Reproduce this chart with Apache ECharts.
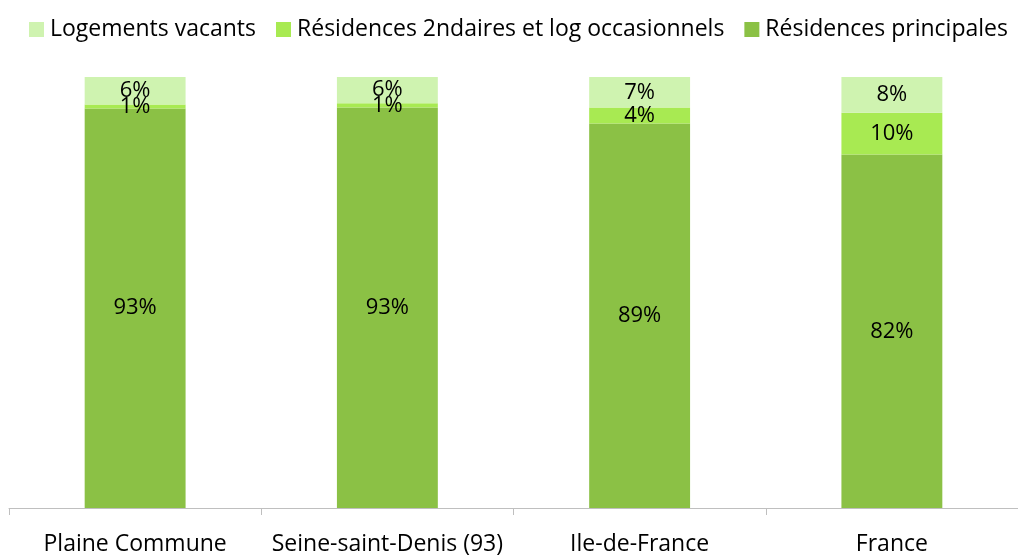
<!DOCTYPE html>
<html>
<head>
<meta charset="utf-8">
<script src="https://cdn.jsdelivr.net/npm/echarts@6/dist/echarts.min.js"></script>
<style>
  html, body { margin: 0; padding: 0; background: #fff; }
  #chart { width: 1018px; height: 557px; }
</style>
</head>
<body>
<div id="chart"></div>
<script>
// catégories (axe x)
var categories = ['Plaine Commune', 'Seine-saint-Denis (93)', 'Ile-de-France', 'France'];
// parts en %
var principales = [92.7, 92.9, 89.2, 82.0];
var secondaires = [0.9, 1.0, 3.7, 9.7];
var vacants = [6.4, 6.1, 7.1, 8.3];
var seriesNames = ['Logements vacants', 'Résidences 2ndaires et log occasionnels', 'Résidences principales'];

var font = 'Open Sans';
var chart = echarts.init(document.getElementById('chart'), null, { renderer: 'canvas' });

function pctLabel(p) {
    return Math.round(p.value) + '%';
}

var labelStyle = {
    show: true,
    position: 'inside',
    formatter: pctLabel,
    color: '#000',
    fontFamily: font,
    fontSize: 22
};

var option = {
    animation: false,
    legend: {
        data: seriesNames,
        padding: 0,
        top: 18,
        left: 29,
        itemWidth: 15,
        itemHeight: 15,
        itemGap: 20,
        icon: 'rect',
        textStyle: { fontFamily: font, fontSize: 23, color: '#000', padding: [0, 0, 0, 1] }
    },
    grid: { left: 9, right: -4, top: 77, bottom: 49 },
    xAxis: {
        type: 'category',
        data: categories,
        axisLine: { lineStyle: { color: '#bfbfbf', width: 1 } },
        axisTick: { show: true, interval: 0, length: 7, lineStyle: { color: '#bfbfbf' } },
        axisLabel: { interval: 0, fontFamily: font, fontSize: 23, color: '#000', margin: 25 }
    },
    yAxis: {
        type: 'value',
        min: 0,
        max: 100,
        show: false
    },
    series: [
        {
            name: 'Résidences principales',
            type: 'bar',
            stack: 'total',
            barWidth: '40%',
            data: principales,
            itemStyle: { color: '#8bc145' },
            label: labelStyle
        },
        {
            name: 'Résidences 2ndaires et log occasionnels',
            type: 'bar',
            stack: 'total',
            data: secondaires,
            itemStyle: { color: '#a8ea52' },
            label: labelStyle
        },
        {
            name: 'Logements vacants',
            type: 'bar',
            stack: 'total',
            data: vacants,
            itemStyle: { color: '#cff3b0' },
            label: labelStyle
        }
    ]
};

chart.setOption(option);
</script>
</body>
</html>
